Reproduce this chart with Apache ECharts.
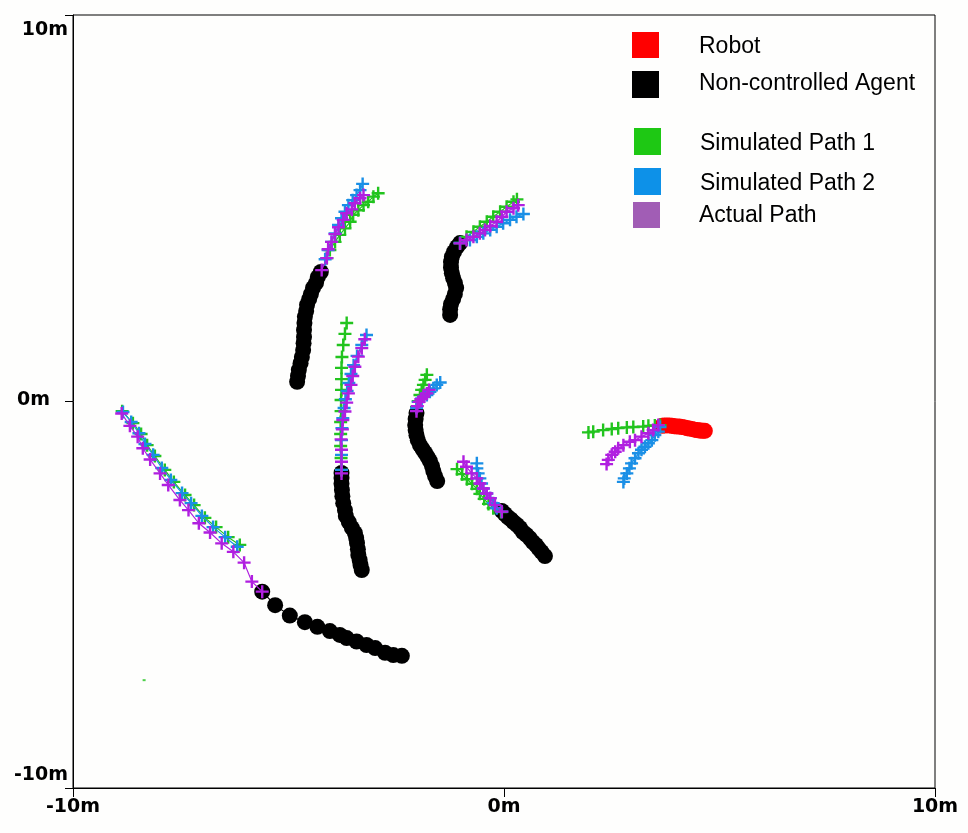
<!DOCTYPE html>
<html>
<head>
<meta charset="utf-8">
<script src="https://cdn.jsdelivr.net/npm/echarts@6/dist/echarts.min.js"></script>
<style>
html,body{margin:0;padding:0;background:#fefefd;}
#chart{width:968px;height:833px;}
</style>
</head>
<body>
<div id="chart"></div>
<script>
// ---- axis ticks ----
const tickValues = [-10, 0, 10];
const tickLabels = {'-10': '-10m', '0': '0m', '10': '10m'};

// ---- legend ----
const legendNames = ['Robot', 'Non-controlled Agent', 'Simulated Path 1', 'Simulated Path 2', 'Actual Path'];

// ---- robot (metres) ----
const robotPath = [[3.67,-0.63],[3.72,-0.62],[3.78,-0.62],[3.84,-0.62],[3.90,-0.63],[3.95,-0.64],[4.01,-0.65],[4.07,-0.65],[4.13,-0.66],[4.19,-0.67],[4.25,-0.69],[4.30,-0.70],[4.36,-0.71],[4.42,-0.73],[4.48,-0.74],[4.53,-0.75],[4.57,-0.75],[4.62,-0.76],[4.66,-0.76]];
const robotSim1 = [[3.62,-0.61],[3.50,-0.62],[3.35,-0.63],[3.23,-0.65],[3.00,-0.66],[2.85,-0.67],[2.65,-0.69],[2.50,-0.71],[2.30,-0.74],[2.07,-0.78],[1.96,-0.80]];
const robotSim2 = [[3.62,-0.66],[3.58,-0.78],[3.50,-0.87],[3.43,-1.00],[3.35,-1.08],[3.27,-1.17],[3.19,-1.25],[3.12,-1.34],[3.04,-1.47],[2.96,-1.60],[2.91,-1.73],[2.85,-1.86],[2.79,-1.99],[2.77,-2.08]];
const robotActual = [[3.58,-0.61],[3.46,-0.74],[3.35,-0.82],[3.19,-0.91],[3.04,-1.00],[2.92,-1.04],[2.77,-1.13],[2.65,-1.21],[2.58,-1.30],[2.50,-1.38],[2.42,-1.51],[2.38,-1.62]];

// ---- agent A (bottom left) ----
const agentAPath = [[-5.61,-4.92],[-5.31,-5.27],[-4.97,-5.54],[-4.62,-5.71],[-4.33,-5.83],[-4.04,-5.94],[-3.81,-6.04],[-3.65,-6.12],[-3.42,-6.21],[-3.19,-6.30],[-2.99,-6.38],[-2.76,-6.50],[-2.57,-6.56],[-2.37,-6.58]];
const agentASim1 = [[-6.13,-3.71],[-6.40,-3.51],[-6.68,-3.25],[-6.94,-3.01],[-7.19,-2.68],[-7.40,-2.42],[-7.66,-2.08],[-7.87,-1.77],[-8.10,-1.41],[-8.28,-1.13],[-8.42,-0.84],[-8.61,-0.56],[-8.86,-0.25]];
const agentASim2 = [[-6.19,-3.76],[-6.47,-3.51],[-6.75,-3.25],[-7.01,-2.96],[-7.26,-2.63],[-7.47,-2.37],[-7.73,-2.03],[-7.94,-1.72],[-8.14,-1.38],[-8.33,-1.10],[-8.47,-0.82],[-8.65,-0.53],[-8.84,-0.27]];
const agentAActual = [[-5.61,-4.92],[-5.85,-4.66],[-6.03,-4.17],[-6.28,-3.89],[-6.55,-3.67],[-6.82,-3.39],[-7.08,-3.15],[-7.32,-2.81],[-7.52,-2.55],[-7.79,-2.16],[-7.98,-1.86],[-8.21,-1.50],[-8.38,-1.21],[-8.50,-0.91],[-8.68,-0.63],[-8.87,-0.31]];
const strayGreen = [[-8.35,-7.21]];

// ---- agent B (middle vertical) ----
const agentBPath = [[-3.77,-1.85],[-3.77,-1.98],[-3.77,-2.13],[-3.76,-2.29],[-3.75,-2.45],[-3.73,-2.63],[-3.69,-2.81],[-3.67,-2.96],[-3.60,-3.12],[-3.53,-3.27],[-3.46,-3.40],[-3.43,-3.53],[-3.41,-3.66],[-3.39,-3.82],[-3.38,-3.97],[-3.35,-4.10],[-3.33,-4.23],[-3.30,-4.36]];
const agentBSim1 = [[-3.77,-1.77],[-3.78,-1.46],[-3.79,-1.15],[-3.79,-0.84],[-3.79,-0.53],[-3.78,-0.25],[-3.78,0.04],[-3.77,0.30],[-3.77,0.58],[-3.77,0.87],[-3.76,1.15],[-3.73,1.46],[-3.69,1.75],[-3.65,2.03]];
const agentBSim2 = [[-3.77,-1.77],[-3.77,-1.38],[-3.77,-1.00],[-3.76,-0.69],[-3.74,-0.43],[-3.71,-0.17],[-3.68,0.06],[-3.64,0.27],[-3.60,0.48],[-3.55,0.71],[-3.49,0.94],[-3.41,1.18],[-3.30,1.46],[-3.19,1.72]];
const agentBActual = [[-3.77,-1.86],[-3.77,-1.56],[-3.77,-1.25],[-3.78,-0.98],[-3.75,-0.72],[-3.74,-0.48],[-3.69,-0.26],[-3.65,-0.03],[-3.61,0.21],[-3.55,0.43],[-3.51,0.66],[-3.46,0.90],[-3.38,1.16],[-3.30,1.38],[-3.23,1.61]];

// ---- agent C (upper left) ----
const agentCPath = [[-4.25,3.35],[-4.32,3.22],[-4.36,3.07],[-4.43,2.94],[-4.48,2.78],[-4.52,2.65],[-4.57,2.50],[-4.59,2.34],[-4.62,2.19],[-4.63,2.03],[-4.64,1.85],[-4.64,1.67],[-4.65,1.51],[-4.66,1.33],[-4.69,1.15],[-4.72,0.99],[-4.76,0.82],[-4.78,0.66],[-4.80,0.51]];
const agentCSim1 = [[-4.11,3.71],[-4.04,3.92],[-3.92,4.13],[-3.81,4.31],[-3.69,4.48],[-3.57,4.65],[-3.50,4.83],[-3.38,4.95],[-3.26,5.08],[-3.15,5.17],[-3.03,5.30],[-2.92,5.39]];
const agentCSim2 = [[-4.15,3.68],[-4.08,3.92],[-4.00,4.13],[-3.92,4.35],[-3.84,4.57],[-3.77,4.74],[-3.69,4.91],[-3.61,5.08],[-3.51,5.21],[-3.42,5.34],[-3.34,5.47],[-3.28,5.63]];
const agentCActual = [[-4.23,3.40],[-4.11,3.71],[-4.08,3.94],[-4.00,4.13],[-3.92,4.33],[-3.84,4.51],[-3.73,4.70],[-3.65,4.87],[-3.53,4.97],[-3.46,5.13],[-3.34,5.26],[-3.26,5.34]];

// ---- agent D (upper middle) ----
const agentDPath = [[-1.02,4.10],[-1.09,4.00],[-1.16,3.87],[-1.21,3.74],[-1.23,3.61],[-1.23,3.46],[-1.21,3.32],[-1.18,3.19],[-1.14,3.07],[-1.11,2.94],[-1.14,2.78],[-1.18,2.65],[-1.23,2.52],[-1.25,2.39],[-1.25,2.24]];
const agentDSim1 = [[-1.02,4.10],[-0.87,4.26],[-0.71,4.39],[-0.56,4.52],[-0.40,4.65],[-0.25,4.78],[-0.09,4.91],[0.06,5.04],[0.22,5.17],[0.30,5.23]];
const agentDSim2 = [[-1.02,4.10],[-0.79,4.18],[-0.63,4.26],[-0.48,4.35],[-0.32,4.44],[-0.17,4.52],[-0.02,4.61],[0.14,4.70],[0.29,4.78],[0.45,4.85]];
const agentDActual = [[-1.02,4.09],[-0.87,4.18],[-0.71,4.26],[-0.56,4.35],[-0.44,4.44],[-0.32,4.54],[-0.17,4.65],[-0.05,4.78],[0.06,4.91],[0.22,5.00],[0.33,5.08]];

// ---- agent E (centre) ----
const agentEPath = [[-2.03,-0.30],[-2.05,-0.45],[-2.06,-0.61],[-2.05,-0.74],[-2.03,-0.87],[-2.00,-1.00],[-1.95,-1.13],[-1.89,-1.23],[-1.83,-1.33],[-1.77,-1.44],[-1.72,-1.54],[-1.67,-1.67],[-1.64,-1.80],[-1.60,-1.93],[-1.55,-2.06]];
const agentESim1 = [[-2.03,-0.14],[-1.99,0.01],[-1.95,0.17],[-1.91,0.30],[-1.87,0.43],[-1.83,0.56],[-1.79,0.69]];
const agentESim2 = [[-2.03,-0.17],[-1.99,-0.01],[-1.91,0.08],[-1.79,0.17],[-1.72,0.25],[-1.64,0.34],[-1.56,0.43],[-1.48,0.49]];
const agentEActual = [[-2.03,-0.25],[-2.01,-0.12],[-1.97,-0.01],[-1.93,0.06],[-1.87,0.12],[-1.79,0.21],[-1.74,0.30]];

// ---- agent F (centre right) ----
const agentFPath = [[-0.05,-2.83],[0.02,-2.91],[0.09,-2.99],[0.16,-3.05],[0.22,-3.12],[0.30,-3.19],[0.37,-3.27],[0.44,-3.38],[0.52,-3.45],[0.60,-3.54],[0.67,-3.64],[0.74,-3.71],[0.80,-3.80],[0.87,-3.89],[0.95,-4.00]];
const agentFSim1 = [[-0.07,-2.86],[-0.25,-2.76],[-0.36,-2.65],[-0.46,-2.52],[-0.56,-2.39],[-0.63,-2.26],[-0.74,-2.13],[-0.86,-2.01],[-0.97,-1.88],[-1.09,-1.75]];
const agentFSim2 = [[-0.05,-2.85],[-0.17,-2.76],[-0.25,-2.63],[-0.32,-2.50],[-0.40,-2.38],[-0.48,-2.25],[-0.52,-2.12],[-0.56,-1.99],[-0.60,-1.86],[-0.63,-1.73],[-0.63,-1.60]];
const agentFActual = [[-0.05,-2.85],[-0.21,-2.68],[-0.32,-2.50],[-0.40,-2.38],[-0.48,-2.25],[-0.56,-2.12],[-0.63,-1.99],[-0.75,-1.86],[-0.87,-1.69],[-0.94,-1.56]];

// ---- styles ----
const COL = {robot:'#ff0000', agent:'#000000', sim1:'#22c41e', sim2:'#1a8fe6', actual:'#b01fe0'};
const LEG = ['#ff0000', '#000000', '#1ec814', '#0d91e8', '#a15db5'];
const PLUS = 'path://M5.3,0H7.7V5.3H13V7.7H7.7V13H5.3V7.7H0V5.3H5.3Z';

function dots(data, color, size, z){
  return {type:'line', data, z, symbol:'circle', symbolSize:size, showSymbol:true,
    itemStyle:{color, opacity:1}, lineStyle:{color, width:1.2}, silent:true};
}
function plus(data, color, z){
  return {type:'line', data, z, symbol:PLUS, symbolSize:13, showSymbol:true,
    itemStyle:{color, opacity:1}, lineStyle:{color, width:1.2}, silent:true};
}

const agents = [
  [agentAPath, agentASim1, agentASim2, agentAActual],
  [agentBPath, agentBSim1, agentBSim2, agentBActual],
  [agentCPath, agentCSim1, agentCSim2, agentCActual],
  [agentDPath, agentDSim1, agentDSim2, agentDActual],
  [agentEPath, agentESim1, agentESim2, agentEActual],
  [agentFPath, agentFSim1, agentFSim2, agentFActual]
];

const series = [];
agents.forEach(a => series.push(dots(a[0], COL.agent, 16, 2)));
series.push(dots(robotPath, COL.robot, 16, 3));
agents.forEach(a => series.push(plus(a[1], COL.sim1, 4)));
series.push(plus(robotSim1, COL.sim1, 4));
series.push({type:'scatter', data:strayGreen, symbol:'rect', symbolSize:[3,2], itemStyle:{color:COL.sim1}, z:4, silent:true});
agents.forEach(a => series.push(plus(a[2], COL.sim2, 5)));
series.push(plus(robotSim2, COL.sim2, 5));
agents.forEach(a => series.push(plus(a[3], COL.actual, 6)));
series.push(plus(robotActual, COL.actual, 6));

// ---- legend as graphics ----
const legendBoxes = [[632,32,27,26],[632,71,27,27],[634,128,27,27],[634,168,27,27],[633,202,27,26]];
const legendText = [[699,47],[699,84],[700,143.5],[700,183.5],[699,216]];
const graphic = [];
legendNames.forEach((name, i) => {
  const b = legendBoxes[i];
  graphic.push({type:'rect', shape:{x:b[0], y:b[1], width:b[2], height:b[3]}, style:{fill:LEG[i]}, z:100});
  graphic.push({type:'text', x:legendText[i][0], y:legendText[i][1], z:100,
    style:{text:name, fill:'#000', font:'23px "Liberation Sans", Arial, sans-serif', verticalAlign:'middle', align:'left'}});
});

const labelFont = {fontFamily:'"DejaVu Sans", sans-serif', fontWeight:'bold', fontSize:19, color:'#000'};

const option = {
  animation:false,
  backgroundColor:'#fefefd',
  grid:{left:73, right:33, top:15, bottom:45, show:true, borderColor:'#000', borderWidth:1, backgroundColor:'transparent'},
  xAxis:{type:'value', min:-10, max:10, interval:10, position:'bottom',
    axisLine:{show:true, onZero:false, lineStyle:{color:'#000', width:1}},
    axisTick:{show:true, length:9, inside:false, lineStyle:{color:'#000', width:1}},
    splitLine:{show:false},
    axisLabel:Object.assign({margin:10, formatter:v => tickLabels[String(v)]}, labelFont)},
  yAxis:{type:'value', min:-10, max:10, interval:10, position:'left',
    axisLine:{show:true, onZero:false, lineStyle:{color:'#000', width:1}},
    axisTick:{show:true, length:8, inside:false, lineStyle:{color:'#000', width:1}},
    splitLine:{show:false},
    axisLabel:Object.assign({margin:5,
      formatter:v => v === 10 ? '{top|' + tickLabels['10'] + '}' : (v === -10 ? '{bot|' + tickLabels['-10'] + '}' : '{mid|' + tickLabels['0'] + '}'),
      rich:{
        top:Object.assign({padding:[30,0,0,0]}, labelFont),
        mid:Object.assign({padding:[0,18,2,0]}, labelFont),
        bot:Object.assign({padding:[0,0,26,0]}, labelFont)
      }}, labelFont)},
  graphic,
  series
};

const chart = echarts.init(document.getElementById('chart'), null, {renderer:'canvas'});
chart.setOption(option);
</script>
</body>
</html>
